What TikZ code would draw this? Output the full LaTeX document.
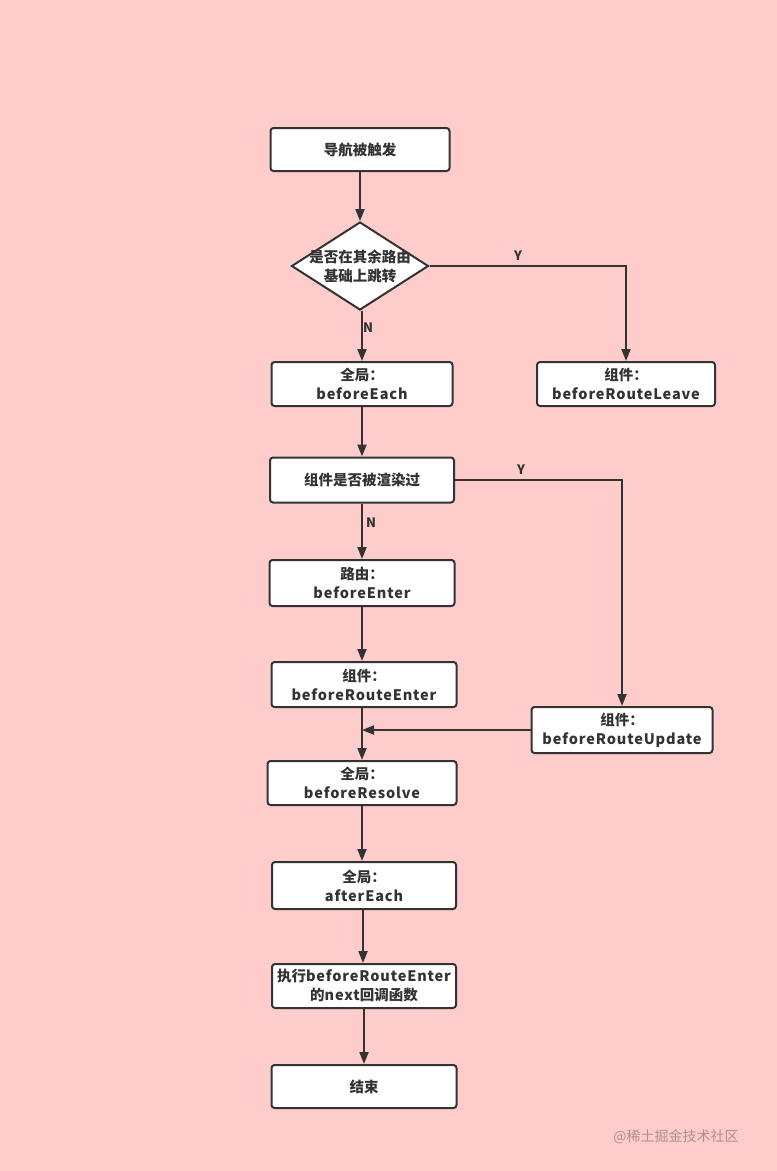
\documentclass[tikz,border=0pt]{standalone}
\usepackage{fontspec}
\setmainfont{Noto Sans CJK SC}
\newfontfamily\lat{Noto Sans CJK SC}[LetterSpace=6]
\usetikzlibrary{arrows.meta,shapes.geometric}
\definecolor{bgc}{HTML}{FFCCCC}
\definecolor{linec}{HTML}{333333}
\definecolor{textc}{HTML}{333333}
\begin{document}
\begin{tikzpicture}[x=1pt,y=-1pt,
  box/.style={draw=linec, line width=2pt, rounded corners=3pt, fill=white, align=center,
    font=\bfseries\fontsize{14.5}{19}\selectfont, text=textc, inner sep=0pt},
  dia/.style={draw=linec, line width=2pt, fill=white, shape=diamond, inner sep=0pt},
  arr/.style={draw=linec, line width=2pt, -{Triangle[length=12pt,width=9pt]}},
  lab/.style={font=\bfseries\fontsize{13}{13}\selectfont, text=textc, inner sep=0pt}]
\fill[bgc] (0,0) rectangle (777,1171);
\useasboundingbox (0,0) rectangle (777,1171);
% nodes
\node[box, minimum width=179pt, minimum height=43pt] (n1) at (360,149.5) {导航被触发};
\node[dia, minimum width=137pt, minimum height=88pt] (d) at (360,266) {};
\node[lab, font=\bfseries\fontsize{14.5}{19}\selectfont, align=center] (dt) at (360,266) {是否在其余路由\\基础上跳转};
\node[box, minimum width=181pt, minimum height=44pt] (each) at (362,384) {全局：\\{\lat beforeEach}};
\node[box, minimum width=178pt, minimum height=44pt] (leave) at (626,384) {组件：\\{\lat beforeRouteLeave}};
\node[box, minimum width=184pt, minimum height=45pt] (render) at (362,480) {组件是否被渲染过};
\node[box, minimum width=185pt, minimum height=46pt] (enter) at (362,583) {路由：\\{\lat beforeEnter}};
\node[box, minimum width=185pt, minimum height=45pt] (renter) at (364,684.5) {组件：\\{\lat beforeRouteEnter}};
\node[box, minimum width=181pt, minimum height=46pt] (update) at (622,730) {组件：\\{\lat beforeRouteUpdate}};
\node[box, minimum width=189pt, minimum height=44pt] (resolve) at (362,783) {全局：\\{\lat beforeResolve}};
\node[box, minimum width=184pt, minimum height=47pt] (after) at (364,885.5) {全局：\\{\lat afterEach}};
\node[box, minimum width=184pt, minimum height=44pt] (exec) at (364,986) {执行{\lat beforeRouteEnter}\\的{\lat next}回调函数};
\node[box, minimum width=185pt, minimum height=43pt] (end) at (364,1086.5) {结束};
% connectors
\draw[arr] (n1.south) -- (d.north);
\draw[arr] (d.east) -| (leave.north);
\node[lab] (y1) at (518,256) {Y};
\draw[arr] (d.south -| each.south) -- (each.north);
\node[lab] (nn1) at (368,328) {N};
\draw[arr] (each.south -| render.south) -- (render.north);
\draw[arr] (render.east) -| (update.north);
\node[lab] (y2) at (521,470) {Y};
\draw[arr] (render.south) -- (render.south |- enter.north);
\node[lab] (nn2) at (371,523) {N};
\draw[arr] (enter.south) -- (enter.south |- renter.north);
\draw[arr] (renter.south -| enter.south) -- (enter.south |- resolve.north);
\draw[arr] (update.west) -- (update.west -| enter.south);
\draw[arr] (resolve.south) -- (resolve.south |- after.north);
\draw[arr] (after.south -| 363,0) -- (363,0 |- exec.north);
\draw[arr] (exec.south) -- (exec.south |- end.north);
% watermark
\node[font=\fontsize{14}{14}\selectfont, text=black, opacity=0.3] (wm) at (676,1137) {@稀土掘金技术社区};
\end{tikzpicture}
\end{document}
